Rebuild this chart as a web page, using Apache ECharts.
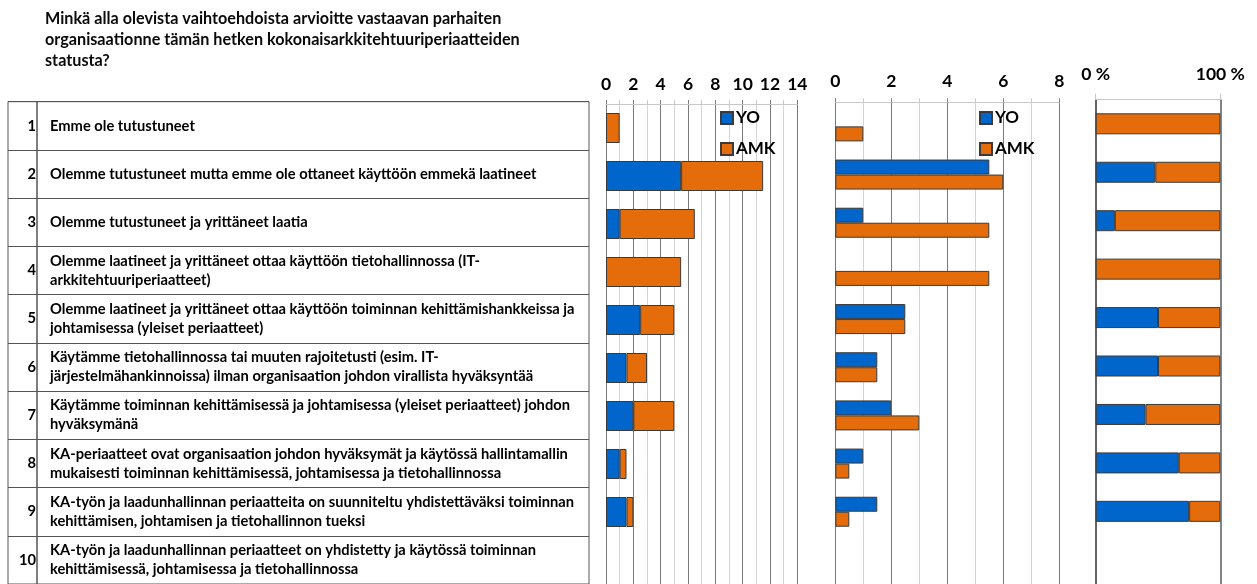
<!DOCTYPE html>
<html>
<head>
<meta charset="utf-8">
<script src="https://cdn.jsdelivr.net/npm/echarts@6/dist/echarts.min.js"></script>
<style>html,body{margin:0;padding:0;background:#fff;}#c{width:1257px;height:584px;}</style>
</head>
<body>
<div id="c"></div>
<script>
const titleText = 'Minkä alla olevista vaihtoehdoista arvioitte vastaavan parhaiten\norganisaationne tämän hetken kokonaisarkkitehtuuriperiaatteiden\nstatusta?';
const rowNumbers = ['1','2','3','4','5','6','7','8','9','10'];
const categories = [
  'Emme ole tutustuneet',
  'Olemme tutustuneet mutta emme ole ottaneet käyttöön emmekä laatineet',
  'Olemme tutustuneet ja yrittäneet laatia',
  'Olemme laatineet ja yrittäneet ottaa käyttöön tietohallinnossa (IT-\narkkitehtuuriperiaatteet)',
  'Olemme laatineet ja yrittäneet ottaa käyttöön toiminnan kehittämishankkeissa ja\njohtamisessa (yleiset periaatteet)',
  'Käytämme tietohallinnossa tai muuten rajoitetusti (esim. IT-\njärjestelmähankinnoissa) ilman organisaation johdon virallista hyväksyntää',
  'Käytämme toiminnan kehittämisessä ja johtamisessa (yleiset periaatteet) johdon\nhyväksymänä',
  'KA-periaatteet ovat organisaation johdon hyväksymät ja käytössä hallintamallin\nmukaisesti toiminnan kehittämisessä, johtamisessa ja tietohallinnossa',
  'KA-työn ja laadunhallinnan periaatteita on suunniteltu yhdistettäväksi toiminnan\nkehittämisen, johtamisen ja tietohallinnon tueksi',
  'KA-työn ja laadunhallinnan periaatteet on yhdistetty ja käytössä toiminnan\nkehittämisessä, johtamisessa ja tietohallinnossa'
];
const yoValues  = [0, 5.5, 1, 0, 2.5, 1.5, 2, 1, 1.5, 0];
const amkValues = [1, 6, 5.5, 5.5, 2.5, 1.5, 3, 0.5, 0.5, 0];
const seriesNames = ['YO', 'AMK'];
const panel1Ticks = {min: 0, max: 14, interval: 2};
const panel2Ticks = {min: 0, max: 8, interval: 2};
const panel3Ticks = {min: 0, max: 100, interval: 100};

const BLUE = '#0066cc', ORANGE = '#e46c0a', EDGE = '#3a3a3a';
const FONT = 'Lato';
const nz = v => (v === 0 ? null : v);
const share = (a, b) => (a + b === 0 ? null : (a / (a + b)) * 100);
const yoShare = yoValues.map((v, i) => nz(share(v, amkValues[i])));
const amkShare = amkValues.map((v, i) => nz(share(v, yoValues[i])));

const barStyle = c => ({color: c, borderColor: EDGE, borderWidth: 1});
const tickLabel = {color: '#000', fontFamily: FONT, fontWeight: 'bold', fontSize: 17.5};

const chart = echarts.init(document.getElementById('c'), null, {renderer: 'canvas'});
chart.setOption({
  animation: false,
  backgroundColor: '#fff',
  title: {
    text: titleText, left: 45, top: 8, padding: 0,
    textStyle: {fontFamily: FONT, fontWeight: 'bold', fontSize: 16.2, lineHeight: 21, color: '#0a0a0a'}
  },
  legend: [
    {orient: 'vertical', left: 720, top: 108, padding: 0, icon: 'rect', itemWidth: 12, itemHeight: 12, itemGap: 11,
     data: seriesNames, selectedMode: false,
     textStyle: {fontFamily: FONT, fontWeight: 'bold', fontSize: 17, lineHeight: 20, color: '#000', padding: [0,0,0,-2]}},
    {orient: 'vertical', left: 979, top: 108, padding: 0, icon: 'rect', itemWidth: 12, itemHeight: 12, itemGap: 11,
     data: seriesNames, selectedMode: false,
     textStyle: {fontFamily: FONT, fontWeight: 'bold', fontSize: 17, lineHeight: 20, color: '#000', padding: [0,0,0,-2]}}
  ],
  grid: [
    {left: 8, width: 29, top: 101.7, height: 483, show: true, borderColor: '#555', borderWidth: 1, backgroundColor: 'transparent'},
    {left: 37, width: 552, top: 101.7, height: 483, show: true, borderColor: '#555', borderWidth: 1, backgroundColor: 'transparent'},
    {left: 606, width: 191.3, top: 104, height: 482},
    {left: 835.3, width: 224, top: 102.3, height: 488},
    {left: 1095.7, width: 124.6, top: 99.6, height: 493}
  ],
  xAxis: [
    {gridIndex: 0, type: 'value', show: false},
    {gridIndex: 1, type: 'value', show: false},
    {gridIndex: 2, type: 'value', position: 'top', min: panel1Ticks.min, max: panel1Ticks.max, interval: panel1Ticks.interval,
     axisLine: {show: true, lineStyle: {color: '#c8c8c8'}},
     axisTick: {show: true, length: 4, lineStyle: {color: '#7f7f7f'}},
     minorTick: {show: true, splitNumber: 2, length: 4, lineStyle: {color: '#c8c8c8'}},
     axisLabel: Object.assign({margin: 11}, tickLabel),
     splitLine: {show: true, lineStyle: {color: '#7a7a7a', width: 1}},
     minorSplitLine: {show: true, lineStyle: {color: '#d4d4d4', width: 1}}},
    {gridIndex: 3, type: 'value', position: 'top', min: panel2Ticks.min, max: panel2Ticks.max, interval: panel2Ticks.interval,
     axisLine: {show: true, lineStyle: {color: '#c8c8c8'}},
     axisTick: {show: true, length: 4, lineStyle: {color: '#7f7f7f'}},
     minorTick: {show: true, splitNumber: 2, length: 4, lineStyle: {color: '#c8c8c8'}},
     axisLabel: Object.assign({margin: 12}, tickLabel),
     splitLine: {show: true, lineStyle: {color: '#7a7a7a', width: 1}},
     minorSplitLine: {show: true, lineStyle: {color: '#d4d4d4', width: 1}}},
    {gridIndex: 4, type: 'value', position: 'top', min: panel3Ticks.min, max: panel3Ticks.max, interval: panel3Ticks.interval,
     axisLine: {show: true, lineStyle: {color: '#c8c8c8'}},
     axisTick: {show: true, length: 6, lineStyle: {color: '#c8c8c8'}},
     axisLabel: Object.assign({margin: 16, formatter: '{value} %'}, tickLabel),
     splitLine: {show: true, lineStyle: {color: '#5a5a5a', width: 1.5}}}
  ],
  yAxis: [
    {gridIndex: 0, type: 'category', data: rowNumbers, inverse: true, position: 'right',
     axisLine: {show: false}, axisTick: {show: false},
     axisLabel: {inside: true, margin: 1, interval: 0, color: '#000', fontFamily: FONT, fontWeight: 'bold', fontSize: 14.7},
     splitLine: {show: true, lineStyle: {color: '#555', width: 1}}},
    {gridIndex: 1, type: 'category', data: categories, inverse: true,
     axisLine: {show: false}, axisTick: {show: false},
     axisLabel: {inside: true, margin: 13, interval: 0, color: '#000', fontFamily: FONT, fontWeight: 'bold', fontSize: 14.7, lineHeight: 19},
     splitLine: {show: true, lineStyle: {color: '#555', width: 1}}},
    {gridIndex: 2, type: 'category', data: categories, inverse: true,
     axisLine: {show: true, lineStyle: {color: '#7a7a7a'}}, axisTick: {show: false}, axisLabel: {show: false}},
    {gridIndex: 3, type: 'category', data: categories, inverse: true,
     axisLine: {show: true, lineStyle: {color: '#7a7a7a'}}, axisTick: {show: false}, axisLabel: {show: false}},
    {gridIndex: 4, type: 'category', data: categories, inverse: true,
     axisLine: {show: true, lineStyle: {color: '#5a5a5a', width: 1.5}}, axisTick: {show: false}, axisLabel: {show: false}}
  ],
  series: [
    {name: 'YO', type: 'bar', xAxisIndex: 2, yAxisIndex: 2, stack: 'p1', barWidth: 30, data: yoValues.map(nz), itemStyle: barStyle(BLUE)},
    {name: 'AMK', type: 'bar', xAxisIndex: 2, yAxisIndex: 2, stack: 'p1', barWidth: 30, data: amkValues.map(nz), itemStyle: barStyle(ORANGE)},
    {name: 'YO', type: 'bar', xAxisIndex: 3, yAxisIndex: 3, barWidth: 15, barGap: '0%', data: yoValues.map(nz), itemStyle: barStyle(BLUE)},
    {name: 'AMK', type: 'bar', xAxisIndex: 3, yAxisIndex: 3, barWidth: 15, barGap: '0%', data: amkValues.map(nz), itemStyle: barStyle(ORANGE)},
    {name: 'YO', type: 'bar', xAxisIndex: 4, yAxisIndex: 4, stack: 'p3', barWidth: 21, data: yoShare, itemStyle: barStyle(BLUE)},
    {name: 'AMK', type: 'bar', xAxisIndex: 4, yAxisIndex: 4, stack: 'p3', barWidth: 21, data: amkShare, itemStyle: barStyle(ORANGE)}
  ]
});
</script>
</body>
</html>
